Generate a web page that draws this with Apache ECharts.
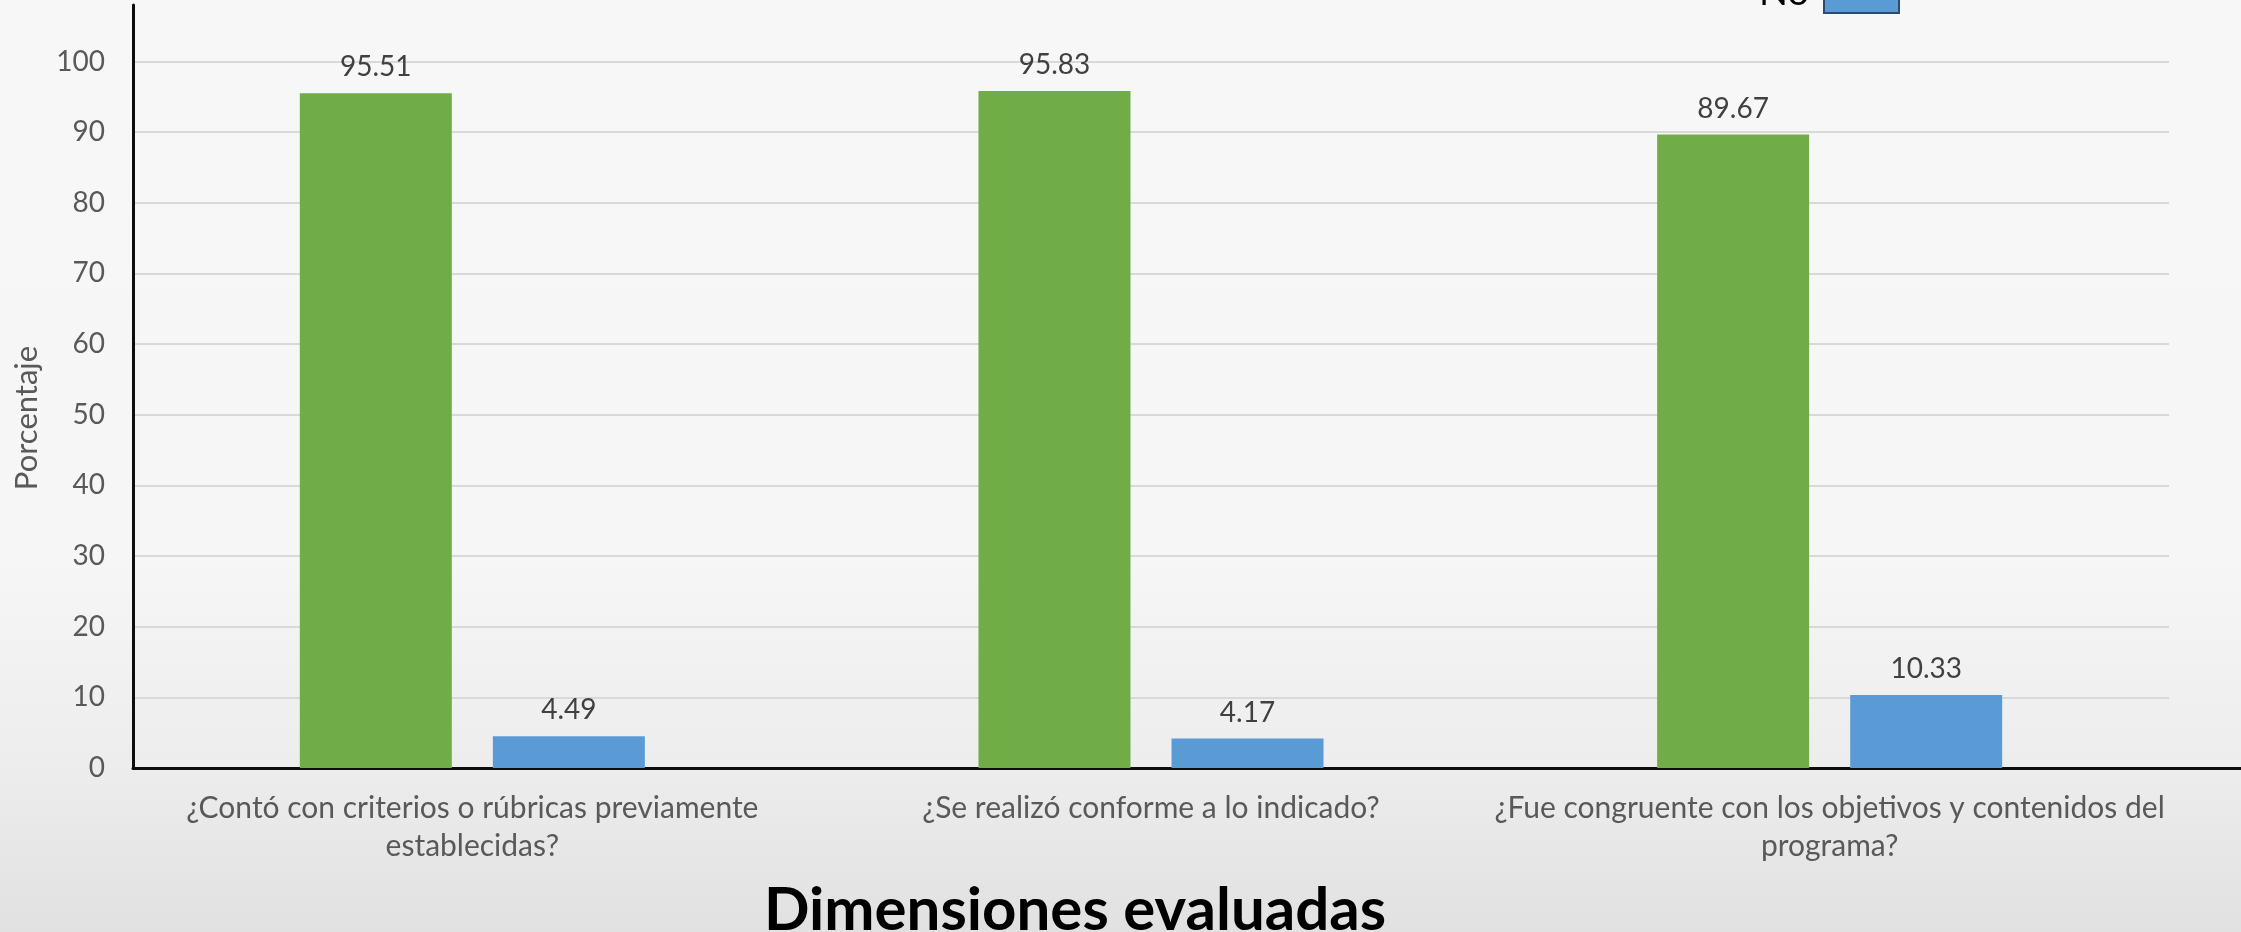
<!DOCTYPE html>
<html>
<head>
<meta charset="utf-8">
<script src="https://cdn.jsdelivr.net/npm/echarts@6/dist/echarts.min.js"></script>
<style>
  html, body {margin: 0; padding: 0;}
  #chart {width: 2241px; height: 932px;}
</style>
</head>
<body>
<div id="chart"></div>
<script>
// categorias (con salto de linea como en el original)
const categories = [
    '¿Contó con criterios o rúbricas previamente\nestablecidas?',
    '¿Se realizó conforme a lo indicado?',
    '¿Fue congruente con los objetivos y contenidos del\nprograma?'
];
const seriesNames = ['Sí', 'No'];
const siValues = [95.51, 95.83, 89.67];
const noValues = [4.49, 4.17, 10.33];
const yTicks = [0, 10, 20, 30, 40, 50, 60, 70, 80, 90, 100];

const FONT = 'Lato';
const GRID = {left: 133, right: 72, top: 5, bottom: 164};

const myChart = echarts.init(document.getElementById('chart'));

const option = {
    animation: false,
    backgroundColor: new echarts.graphic.LinearGradient(0, 0, 0, 1, [
        {offset: 0, color: '#f7f7f7'},
        {offset: 0.6, color: '#f6f6f6'},
        {offset: 0.82, color: '#ededed'},
        {offset: 1, color: '#e1e1e1'}
    ]),
    textStyle: {fontFamily: FONT},
    legend: {
        data: seriesNames,
        orient: 'vertical',
        align: 'right',
        right: 341, top: -80,
        padding: 0,
        itemGap: 10,
        itemWidth: 75, itemHeight: 40,
        icon: 'rect',
        itemStyle: {borderColor: '#2e4a6e', borderWidth: 2},
        textStyle: {fontSize: 38, color: '#000', fontFamily: FONT, padding: [0, 10, 0, 0]}
    },
    grid: [
        {left: GRID.left, right: GRID.right, top: GRID.top, bottom: GRID.bottom},
        // solo para la linea del eje x que sigue hasta el borde derecho
        {left: GRID.left, right: 0, top: GRID.top, bottom: GRID.bottom}
    ],
    xAxis: [
        {
            type: 'category',
            gridIndex: 0,
            data: categories,
            axisLine: {show: false},
            axisTick: {show: false},
            axisLabel: {
                interval: 0,
                margin: 21,
                color: '#595959',
                fontSize: 30,
                lineHeight: 38,
                fontFamily: FONT,
                align: 'center'
            }
        },
        {
            type: 'value',
            gridIndex: 1,
            min: 0, max: 1,
            axisLine: {show: true, onZero: false, lineStyle: {color: '#0d0d0d', width: 3}},
            axisTick: {show: false},
            axisLabel: {show: false},
            splitLine: {show: false}
        }
    ],
    yAxis: [
        {
            type: 'value',
            gridIndex: 0,
            min: 0, max: 108, interval: 10,
            axisLine: {show: true, lineStyle: {color: '#0d0d0d', width: 3}},
            axisTick: {show: false},
            axisLabel: {
                margin: 28,
                color: '#595959',
                fontSize: 28,
                fontFamily: FONT,
                formatter: v => (yTicks.indexOf(v) >= 0 ? String(v) : '')
            },
            splitLine: {show: true, showMaxLine: false, lineStyle: {color: '#d9d9d9', width: 2}}
        },
        {
            type: 'value',
            gridIndex: 1,
            show: false
        }
    ],
    graphic: [
        {
            type: 'text',
            x: 27, y: 418,
            rotation: Math.PI / 2,
            style: {
                text: 'Porcentaje',
                fill: '#595959',
                font: '31px Lato',
                align: 'center',
                verticalAlign: 'middle'
            }
        },
        {
            type: 'text',
            x: 1075, y: 911,
            style: {
                text: 'Dimensiones evaluadas',
                fill: '#000',
                font: 'bold 60px Lato',
                align: 'center',
                verticalAlign: 'middle'
            }
        }
    ],
    series: [
        {
            name: 'Sí',
            type: 'bar',
            xAxisIndex: 0, yAxisIndex: 0,
            barWidth: 152,
            barGap: '27%',
            itemStyle: {color: '#70ad47'},
            label: {show: true, position: 'top', distance: 12, fontSize: 28, color: '#404040', fontFamily: FONT},
            data: siValues
        },
        {
            name: 'No',
            type: 'bar',
            xAxisIndex: 0, yAxisIndex: 0,
            barWidth: 152,
            barGap: '27%',
            itemStyle: {color: '#5b9bd5'},
            label: {show: true, position: 'top', distance: 12, fontSize: 28, color: '#404040', fontFamily: FONT},
            data: noValues
        }
    ]
};

myChart.setOption(option);
</script>
</body>
</html>
